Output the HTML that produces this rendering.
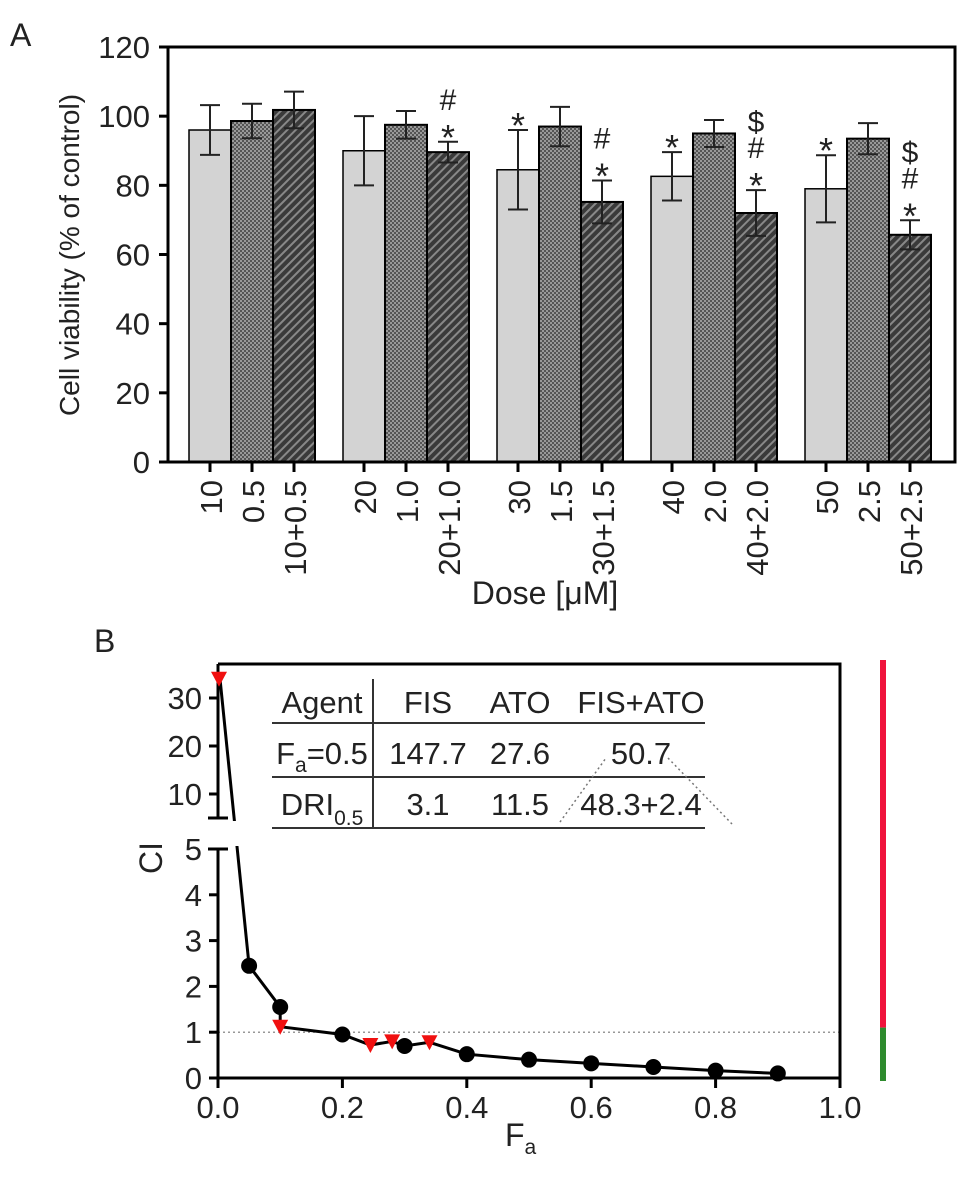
<!DOCTYPE html>
<html><head><meta charset="utf-8"><style>
html,body{margin:0;padding:0;background:#fff;}
svg{display:block;font-family:"Liberation Sans",Arial,sans-serif;}
</style></head><body>
<svg id="chart" width="969" height="1190" viewBox="0 0 969 1190" xmlns="http://www.w3.org/2000/svg">
<defs>
<pattern id="dots" width="4" height="4" patternUnits="userSpaceOnUse">
<rect width="4" height="4" fill="#555"/><rect x="0" y="0" width="2" height="2" fill="#999"/><rect x="2" y="2" width="2" height="2" fill="#999"/>
</pattern>
<pattern id="hatch" width="6" height="6" patternUnits="userSpaceOnUse" patternTransform="rotate(45)">
<rect width="6" height="6" fill="#3a3a3a"/><rect x="0" y="0" width="2" height="6" fill="#888"/>
</pattern>
</defs>
<g id="panelA"></g>
<g id="panelB"></g>
</svg>
<script>
// ---------- Panel A data ----------
const doseLabels = [["10","0.5","10+0.5"],["20","1.0","20+1.0"],["30","1.5","30+1.5"],["40","2.0","40+2.0"],["50","2.5","50+2.5"]];
const fisValues = [96, 90, 84.5, 82.6, 79];
const fisErr = [7.2, 10, 11.5, 7, 9.7];
const atoValues = [98.6, 97.5, 97, 95, 93.5];
const atoErr = [5, 4, 5.7, 3.9, 4.5];
const comboValues = [101.8, 89.6, 75.2, 72, 65.7];
const comboErr = [5.3, 3, 6.2, 6.6, 4.2];
const fisMarks = ["", "", "*", "*", "*"];
const comboMarks = [[], ["*","#"], ["*","#"], ["*","#","$"], ["*","#","$"]];
const yTicksA = [0,20,40,60,80,100,120];

// ---------- Panel B data ----------
const faCircles = [0.05,0.1,0.2,0.3,0.4,0.5,0.6,0.7,0.8,0.9];
const ciCircles = [2.45,1.55,0.95,0.7,0.52,0.4,0.32,0.24,0.16,0.1];
const faTriangles = [0,0.1,0.245,0.28,0.34];
const ciTriangles = [34,1.12,0.72,0.8,0.78];
const xTicksB = [0,0.2,0.4,0.6,0.8,1.0];
const yTicksLow = [0,1,2,3,4,5];
const yTicksHigh = [10,20,30];
const tableHeader = ["Agent","FIS","ATO","FIS+ATO"];
const tableRow1 = ["147.7","27.6","50.7"];
const tableRow2 = ["3.1","11.5","48.3+2.4"];

const F=31;
const NS="http://www.w3.org/2000/svg";
function mk(parent, tag, attrs, text){
  const e=document.createElementNS(NS,tag);
  for(const k in attrs) e.setAttribute(k, attrs[k]);
  if(text!==undefined) e.textContent=text;
  parent.appendChild(e); return e;
}

// ===== Panel A =====
const A=document.getElementById('panelA');
const ay0=462, ay1=47, ax0=168, ax1=955;
const yA=v=>ay0-(v/120)*(ay0-ay1);
const groupStart=i=>189+i*154;
const bw=42;

let t=mk(A,'text',{x:10,y:46,'font-size':32,fill:'#222'},'A');



yTicksA.forEach(v=>{
  const l=mk(A,'line',{x1:ax0-9,x2:ax0,y1:yA(v),y2:yA(v),stroke:'#000','stroke-width':3});
  
  
  const tx=mk(A,'text',{x:ax0-18,y:yA(v)+11,'font-size':F,'text-anchor':'end',fill:'#222'},String(v));
  
  
});
t=mk(A,'text',{x:0,y:0,'font-size':28,'text-anchor':'middle',fill:'#222',transform:'translate(79,255) rotate(-90)'},'Cell viability (% of control)');



const series=[[fisValues,fisErr,'#d3d3d3'],[atoValues,atoErr,'url(#dots)'],[comboValues,comboErr,'url(#hatch)']];
for(let g=0;g<5;g++){
  series.forEach((s,k)=>{
    const x=groupStart(g)+k*bw, v=s[0][g], e=s[1][g];
    const r=mk(A,'rect',{x:x,y:yA(v),width:bw,height:ay0-yA(v),fill:s[2],stroke:'#000','stroke-width':k===0?1.5:2});
    
    
    const cx=x+bw/2;
    const eb=mk(A,'path',{d:`M${cx},${yA(v+e)}V${yA(v-e)}M${cx-10},${yA(v+e)}h20M${cx-10},${yA(v-e)}h20`,stroke:'#222','stroke-width':2,fill:'none'});
    
    
    const tk=mk(A,'line',{x1:cx,x2:cx,y1:ay0,y2:ay0+10,stroke:'#000','stroke-width':3});
    
    
    const lb=mk(A,'text',{x:0,y:0,'font-size':F,'text-anchor':'end',fill:'#222',transform:`translate(${cx+12},${ay0+18}) rotate(-90)`},doseLabels[g][k]);
    
    
    let marks=[];
    if(k===0 && fisMarks[g]) marks=[fisMarks[g]];
    if(k===2) marks=comboMarks[g];
    marks.forEach((m,j)=>{
      const yy=yA(v+e)-6-j*26 + (m==='*'?14:0);
      const mt=mk(A,'text',{x:cx,y:yy,'font-size':m==='*'?36:30,'text-anchor':'middle',fill:'#222'},m);
      
      
    });
  });
}
t=mk(A,'path',{d:`M${ax0},${ay0}H${ax1}V${ay1}H${ax0}Z`,fill:'none',stroke:'#000','stroke-width':3});


t=mk(A,'text',{x:545,y:604,'font-size':32,'text-anchor':'middle',fill:'#222'},'Dose [\u03BCM]');



// ===== Panel B =====
const B=document.getElementById('panelB');
const bx0=218,bx1=840,by0=1078,by5=849,byTop=664;
const xB=v=>bx0+v*(bx1-bx0);
const yLow=v=>by0-v*(by0-by5)/5;
const yHigh=v=>842-v*4.8;
const yB=v=>v>5?yHigh(v):yLow(v);

t=mk(B,'text',{x:94,y:652,'font-size':32,fill:'#222'},'B');



t=mk(B,'line',{x1:bx0,x2:bx1,y1:yLow(1),y2:yLow(1),stroke:'#777','stroke-width':1.2,'stroke-dasharray':'2,3'});



t=mk(B,'path',{d:`M${bx0},${byTop}H${bx1}V${by0}H${bx0}`,fill:'none',stroke:'#000','stroke-width':3});


t=mk(B,'path',{d:`M${bx0},${byTop}V818M${bx0-10},818h20M${bx0},${by0}V${by5}M${bx0-10},${by5}h20`,fill:'none',stroke:'#000','stroke-width':3});



yTicksLow.forEach(v=>{
  const l=mk(B,'line',{x1:bx0-9,x2:bx0,y1:yLow(v),y2:yLow(v),stroke:'#000','stroke-width':3});
  
  
  const tx=mk(B,'text',{x:bx0-16,y:yLow(v)+11,'font-size':F,'text-anchor':'end',fill:'#222'},String(v));
  
  
});
yTicksHigh.forEach(v=>{
  const l=mk(B,'line',{x1:bx0-9,x2:bx0,y1:yHigh(v),y2:yHigh(v),stroke:'#000','stroke-width':3});
  
  
  const tx=mk(B,'text',{x:bx0-16,y:yHigh(v)+11,'font-size':F,'text-anchor':'end',fill:'#222'},String(v));
  
  
});
xTicksB.forEach(v=>{
  const l=mk(B,'line',{x1:xB(v),x2:xB(v),y1:by0,y2:by0+10,stroke:'#000','stroke-width':3});
  
  
  const tx=mk(B,'text',{x:xB(v),y:by0+40,'font-size':F,'text-anchor':'middle',fill:'#222'},v.toFixed(1));
  
  
});
t=mk(B,'text',{x:0,y:0,'font-size':32,'text-anchor':'middle',fill:'#222',transform:'translate(162,858) rotate(-90)'},'CI');


t=mk(B,'text',{x:505,y:1146,'font-size':32,fill:'#222'});


t.innerHTML='F<tspan font-size="21" dy="8">a</tspan>';

const pts=faCircles.map((f,i)=>[f,ciCircles[i]]).concat(faTriangles.map((f,i)=>[f,ciTriangles[i]]));
pts.sort((a,b)=>a[0]-b[0]||b[1]-a[1]);
t=mk(B,'polyline',{points:pts.map(p=>`${xB(p[0])+(p[0]===0?2:0)},${yB(p[1])}`).join(' '),fill:'none',stroke:'#000','stroke-width':3});


t=mk(B,'rect',{x:bx0-14,y:821,width:40,height:25,fill:'#fff'});


t=mk(B,'path',{d:`M${bx0-10},818h20M${bx0-10},${by5}h20M${bx0},${by5}v4`,stroke:'#000','stroke-width':3});



faCircles.forEach((f,i)=>{
  const c=mk(B,'circle',{cx:xB(f),cy:yB(ciCircles[i]),r:8,fill:'#000'});
  
  
});
faTriangles.forEach((f,i)=>{
  const x=xB(f)+(f===0?1:0), y=yB(ciTriangles[i]);
  const p=mk(B,'path',{d:`M${x-8},${y-7}H${x+8}L${x},${y+8}Z`,fill:'#f01010'});
  
  
});

const TB=mk(B,'g',{});


t=mk(TB,'path',{d:'M272,723H705M272,777H705M272,828H705M373,679V828',stroke:'#333','stroke-width':2,fill:'none'});


t=mk(TB,'path',{d:'M560,822L606,758M668,758L732,824',stroke:'#777','stroke-width':1.5,'stroke-dasharray':'2,3',fill:'none'});


const colX=[322,428,520,641];
tableHeader.forEach((h,i)=>{
  const e=mk(TB,'text',{x:colX[i],y:713,'font-size':F,'text-anchor':'middle',fill:'#222'},h);
  
  
});
t=mk(TB,'text',{x:322,y:764,'font-size':F,'text-anchor':'middle',fill:'#222'});


t.innerHTML='F<tspan font-size="21" dy="8">a</tspan><tspan dy="-8">=0.5</tspan>';
t=mk(TB,'text',{x:322,y:815,'font-size':F,'text-anchor':'middle',fill:'#222'});


t.innerHTML='DRI<tspan font-size="21" dy="10">0.5</tspan>';
tableRow1.forEach((v,i)=>{
  const e=mk(TB,'text',{x:colX[i+1],y:764,'font-size':F,'text-anchor':'middle',fill:'#222'},v);
  
  
});
tableRow2.forEach((v,i)=>{
  const e=mk(TB,'text',{x:colX[i+1],y:815,'font-size':F,'text-anchor':'middle',fill:'#222'},v);
  
  
});

t=mk(B,'rect',{x:880,y:660,width:6,height:yLow(1.1)-660,fill:'#f0143c'});


t=mk(B,'rect',{x:880,y:yLow(1.1),width:6,height:1081-yLow(1.1),fill:'#2e8b2e'});


</script>
</body></html>
